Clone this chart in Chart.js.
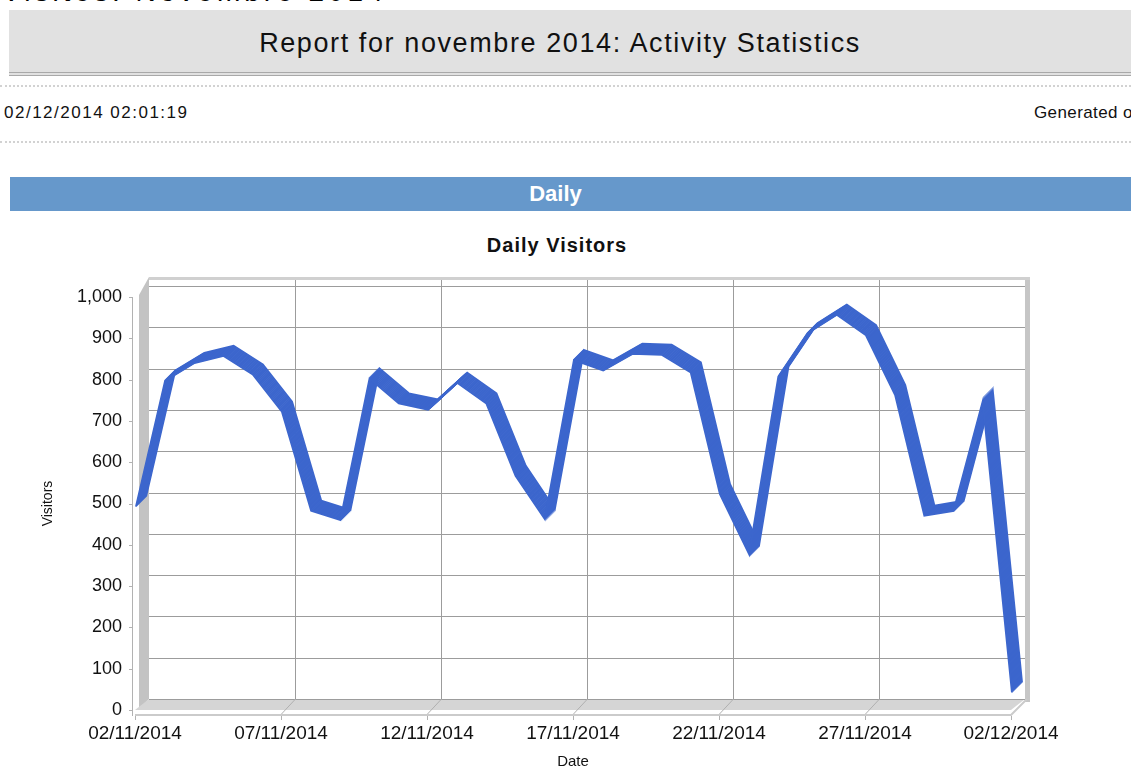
<!DOCTYPE html>
<html>
<head>
<meta charset="utf-8">
<script src="https://cdn.jsdelivr.net/npm/chart.js@4.4.0/dist/chart.umd.min.js"></script>
<style>
  body { margin: 0; width: 1131px; height: 772px; overflow: hidden; background: #fff;
         font-family: "Liberation Sans", Arial, sans-serif; position: relative; }
  .cut { position: absolute; left: 2px; top: -22px; font-size: 28px; line-height: 28px; letter-spacing: 4px;
         color: #000; white-space: nowrap; }
  .head { position: absolute; left: 9px; top: 10px; width: 1122px; height: 62px; background: #e1e1e1;
          border-bottom: 4px double #a9a9a9; }
  .head span { position: absolute; left: 0; width: 1102px; top: 18px; text-align: center; font-size: 27px;
               letter-spacing: 1.6px; color: #111; }
  .dots { position: absolute; left: 0; width: 1131px; height: 0; border-top: 2px dotted #d2d2d2; }
  .stamp { position: absolute; top: 103px; font-size: 17px; letter-spacing: 1.5px; color: #111; white-space: nowrap; }
  .band { position: absolute; left: 10px; top: 177px; width: 1121px; height: 34px; background: #6698cb;
          color: #fff; font-weight: bold; font-size: 22px; line-height: 34px; text-align: center; }
  .band span { display: inline-block; margin-left: -30px; }
  .ctitle { position: absolute; left: 357px; width: 400px; top: 234px; text-align: center; font-weight: bold;
            font-size: 20px; letter-spacing: 1px; color: #111; }
  #chart { position: absolute; left: 0; top: 230px; }
</style>
</head>
<body>
<div class="cut">Visites: Novembre 2014</div>
<div class="head"><span>Report for novembre 2014: Activity Statistics</span></div>
<div class="dots" style="top:85px"></div>
<div class="stamp" style="left:4px">02/12/2014 02:01:19</div>
<div class="stamp" style="left:1034px;letter-spacing:0.4px">Generated on</div>
<div class="dots" style="top:141px"></div>
<div class="band"><span>Daily</span></div>
<div class="ctitle">Daily Visitors</div>
<canvas id="chart" width="1131" height="542"></canvas>

<script>
const dayLabels = [
  "02/11/2014", "03/11/2014", "04/11/2014", "05/11/2014", "06/11/2014",
  "07/11/2014", "08/11/2014", "09/11/2014", "10/11/2014", "11/11/2014",
  "12/11/2014", "13/11/2014", "14/11/2014", "15/11/2014", "16/11/2014",
  "17/11/2014", "18/11/2014", "19/11/2014", "20/11/2014", "21/11/2014",
  "22/11/2014", "23/11/2014", "24/11/2014", "25/11/2014", "26/11/2014",
  "27/11/2014", "28/11/2014", "29/11/2014", "30/11/2014", "01/12/2014",
  "02/12/2014",
];

const visitors = [
  490, 795, 838, 855, 810, 720, 480, 458, 800, 740,
  725, 790, 740, 565, 460, 845, 820, 860, 858, 815,
  520, 375, 805, 910, 955, 905, 760, 468, 480, 745,
  40,
];

const yTicks = [0, 100, 200, 300, 400, 500, 600, 700, 800, 900, 1000];
const labelEvery = 5;

// back wall sits up and to the right of the front axes
const depth = { dx: 14, dy: -11, top: 9 };

const wall3d = {
  id: "wall3d",
  beforeDatasetsDraw(chart) {
    const { ctx, chartArea: a, scales: { x, y } } = chart;
    const { dx, dy, top } = depth;
    const L = a.left, R = a.right, T = a.top, B = a.bottom;

    ctx.save();
    // left side wall
    ctx.fillStyle = "#c3c3c3";
    ctx.beginPath();
    ctx.moveTo(L + 4, T - 2);
    ctx.lineTo(L + dx, T + dy - top);
    ctx.lineTo(L + dx, B + dy);
    ctx.lineTo(L + 4, B);
    ctx.closePath();
    ctx.fill();

    // floor
    ctx.fillStyle = "#d5d5d5";
    ctx.beginPath();
    ctx.moveTo(L, B);
    ctx.lineTo(R, B);
    ctx.lineTo(R + dx, B + dy);
    ctx.lineTo(L + dx, B + dy);
    ctx.closePath();
    ctx.fill();

    // right edge + top edge of the back wall
    ctx.fillStyle = "#c6c6c6";
    ctx.fillRect(R + dx, T + dy - top, 5, B - T + top + 3);
    ctx.fillStyle = "#d0d0d0";
    ctx.fillRect(L + dx, T + dy - top, R - L + 5, 3);

    // back wall grid
    ctx.strokeStyle = "#9c9c9c";
    ctx.lineWidth = 1;
    yTicks.forEach(v => {
      const py = Math.round(y.getPixelForValue(v) + dy) + 0.5;
      ctx.beginPath();
      ctx.moveTo(L + dx, py);
      ctx.lineTo(R + dx, py);
      ctx.stroke();
    });
    for (let i = labelEvery; i < dayLabels.length - 1; i += labelEvery) {
      const px = Math.round(x.getPixelForValue(i) + dx) + 0.5;
      ctx.beginPath();
      ctx.moveTo(px, T + dy - top + 3);
      ctx.lineTo(px, B + dy);
      ctx.stroke();
      ctx.strokeStyle = "#b0b0b0";
      ctx.beginPath();
      ctx.moveTo(px - dx, B + 4);
      ctx.lineTo(px, B + dy);
      ctx.stroke();
      ctx.strokeStyle = "#9c9c9c";
    }

    // front slab edge
    ctx.strokeStyle = "#cbcbcb";
    ctx.lineWidth = 2;
    ctx.beginPath();
    ctx.moveTo(L, B + 5);
    ctx.lineTo(R, B + 5);
    ctx.lineTo(R + dx + 2, B + dy);
    ctx.stroke();

    // front axes with small ticks
    ctx.strokeStyle = "#b2b2b2";
    ctx.lineWidth = 1;
    ctx.beginPath();
    ctx.moveTo(L - 2.5, T);
    ctx.lineTo(L - 2.5, B + 6);
    yTicks.forEach(v => {
      const py = Math.round(y.getPixelForValue(v)) + 0.5;
      ctx.moveTo(L - 6, py);
      ctx.lineTo(L - 2.5, py);
    });
    for (let i = 0; i < dayLabels.length; i += labelEvery) {
      const px = Math.round(x.getPixelForValue(i)) + 0.5;
      ctx.moveTo(px, B + 6);
      ctx.lineTo(px, B + 10);
    }
    ctx.stroke();
    ctx.restore();
  },
  beforeDatasetDraw(chart, args) {
    // extrude the line into a ribbon
    const { ctx, chartArea } = chart;
    const line = args.meta.dataset;
    for (let i = 11; i >= 1; i--) {
      ctx.save();
      ctx.translate(i, -i);
      line.draw(ctx, chartArea);
      ctx.restore();
    }
    return false;
  },
};

const ctx = document.getElementById("chart").getContext("2d");

new Chart(ctx, {
  type: "line",
  data: {
    labels: dayLabels,
    datasets: [{
      label: "Visitors",
      data: visitors,
      borderColor: "#3c66cd",
      borderWidth: 2,
      pointRadius: 0,
      tension: 0,
      clip: false,
    }],
  },
  options: {
    responsive: false,
    animation: false,
    devicePixelRatio: 1,
    layout: { padding: { left: 0, right: 120, top: 67, bottom: 0 } },
    plugins: {
      legend: { display: false },
      tooltip: { enabled: false },
      title: { display: false },
    },
    scales: {
      x: {
        grid: { display: false, drawTicks: false },
        border: { display: false },
        afterFit: s => { s.height = 62; },
        ticks: {
          autoSkip: false,
          maxRotation: 0,
          padding: 12,
          color: "#111",
          font: { family: "Liberation Sans", size: 19 },
          callback: (v, i) => (i % labelEvery === 0 ? dayLabels[i] : ""),
        },
        title: {
          display: true,
          text: "Date",
          color: "#111",
          font: { family: "Liberation Sans", size: 15 },
          padding: { top: 0, bottom: 1 },
        },
      },
      y: {
        min: 0,
        max: 1000,
        grid: { display: false, drawTicks: false },
        border: { display: false },
        afterFit: s => { s.width = 135; },
        ticks: {
          stepSize: 100,
          padding: 13,
          color: "#111",
          font: { family: "Liberation Sans", size: 18 },
          callback: v => v.toLocaleString("en-US"),
        },
        title: {
          display: true,
          text: "Visitors",
          color: "#111",
          font: { family: "Liberation Sans", size: 14 },
          padding: { top: 39.6, bottom: 0 },
        },
      },
    },
  },
  plugins: [wall3d],
});
</script>
</body>
</html>
